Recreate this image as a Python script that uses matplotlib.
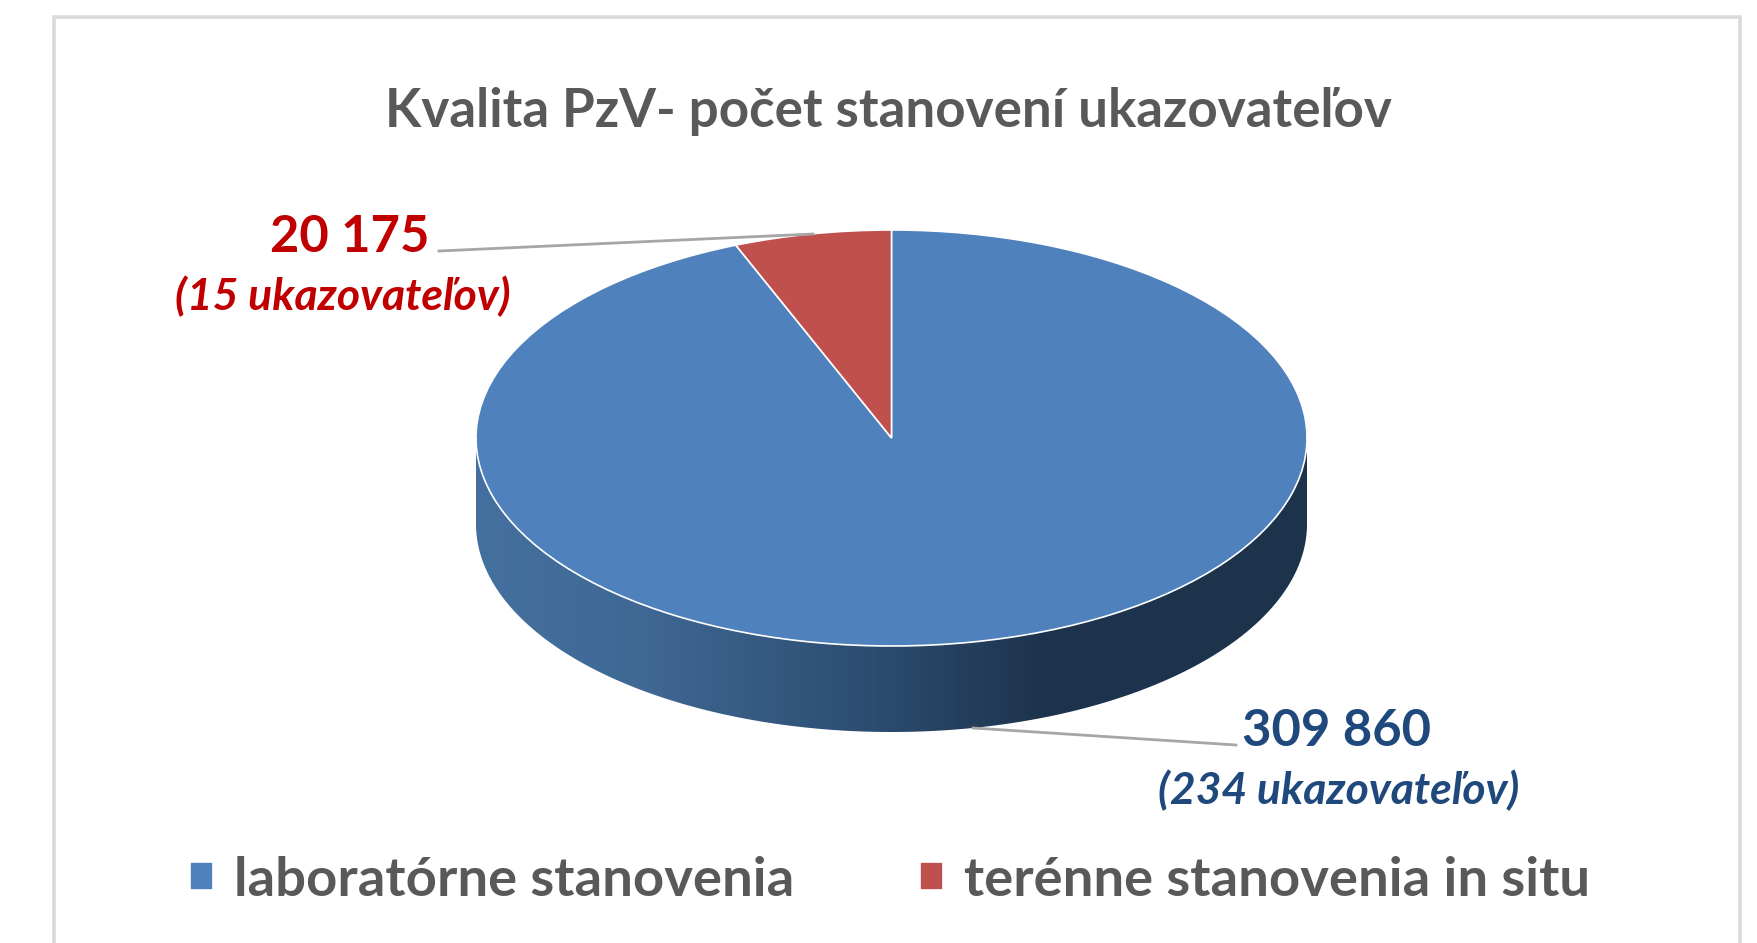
#!/usr/bin/env python
# coding: utf-8
import numpy as np
import matplotlib
matplotlib.use("Agg")
import matplotlib.pyplot as plt
from matplotlib.colors import LinearSegmentedColormap
from matplotlib.patches import Polygon, Rectangle

plt.rcParams['font.family'] = ['Lato', 'DejaVu Sans']

W, H = 1758, 943

title = 'Kvalita PzV- počet stanovení ukazovateľov'
categories = ['laboratórne stanovenia', 'terénne stanovenia in situ']
values = [309860, 20175]
indicators = [234, 15]

colors = ['#4F81BD', '#C0504D']
text_colors = ['#1F497D', '#C00000']
GREY = '#595959'


def fx(x):
    return x / W


def fy(y):
    return 1 - y / H


def main():
    fig = plt.figure(figsize=(W / 100, H / 100), dpi=100, facecolor='white')

    # Chart frame, runs off the bottom of the picture
    fig.add_artist(Rectangle((fx(54), fy(H + 20)), fx(1740) - fx(54), fy(17) - fy(H + 20),
                             transform=fig.transFigure, fill=False,
                             edgecolor='#DADADA', linewidth=2.6))

    # Pie axes: radius 1 maps to the ellipse, y reaches down for the side wall
    cx, cy, rx, ry, depth_px = 891.5, 438, 415.5, 208, 86
    depth = depth_px / ry
    ax = fig.add_axes([fx(cx - rx), fy(cy + ry + depth_px), 2 * rx / W, (2 * ry + depth_px) / H])

    wedges, _ = ax.pie(values, colors=colors, startangle=90, counterclock=False,
                       wedgeprops={'edgecolor': 'white', 'linewidth': 1.2, 'zorder': 3})
    ax.set_aspect('auto')
    ax.set_xlim(-1, 1)
    ax.set_ylim(-1 - depth, 1)

    # Side wall: horizontal gradient clipped to the extruded lower half
    wall_cmap = LinearSegmentedColormap.from_list(
        'wall', [(0, '#44709F'), (0.2, '#3F6894'), (0.48, '#2C4C70'),
                 (0.68, '#1E344E'), (1, '#1D334C')])
    gradient = np.linspace(0, 1, 512).reshape(1, -1)
    img = ax.imshow(gradient, cmap=wall_cmap, extent=(-1, 1, -1 - depth, 0),
                    aspect='auto', zorder=1)
    t = np.linspace(np.pi, 2 * np.pi, 300)
    upper = np.column_stack([np.cos(t), np.sin(t)])
    lower = np.column_stack([np.cos(t[::-1]), np.sin(t[::-1]) - depth])
    clip = Polygon(np.vstack([upper, lower]), closed=True, transform=ax.transData)
    img.set_clip_path(clip)
    ax.set_xlim(-1, 1)
    ax.set_ylim(-1 - depth, 1)
    ax.axis('off')

    # Title
    fig.text(fx(888), fy(112), title, ha='center', va='center',
             fontsize=38.2, fontweight='bold', color=GREY)

    # Leader lines
    fig.add_artist(plt.Line2D([fx(439), fx(813)], [fy(251), fy(234)], color='#A6A6A6',
                              linewidth=2, zorder=5))
    fig.add_artist(plt.Line2D([fx(973), fx(1236)], [fy(728), fy(745)], color='#A6A6A6',
                              linewidth=2, zorder=5))

    # Data labels
    label_pos = [(1337, 731, 1339, 790), (350, 237, 343, 296)]
    for val, n, col, (x1, y1, x2, y2) in zip(values, indicators, text_colors, label_pos):
        fig.text(fx(x1), fy(y1), f'{val:,}'.replace(',', ' '), ha='center', va='center',
                 fontsize=36.5, fontweight='bold', color=col)
        fig.text(fx(x2), fy(y2), f'({n} ukazovateľov)', ha='center', va='center',
                 fontsize=32, fontweight='bold', style='italic', color=col)

    # Legend
    fig.legend(wedges, categories, ncols=2, loc='center', frameon=False,
               bbox_to_anchor=(fx(890), fy(880)), labelcolor=GREY,
               prop={'weight': 'bold', 'size': 39.2},
               handlelength=0.42, handleheight=0.42, handletextpad=0.39, columnspacing=2.3)

    fig.savefig('out.png', dpi=100)
    plt.close(fig)


if __name__ == '__main__':
    main()
